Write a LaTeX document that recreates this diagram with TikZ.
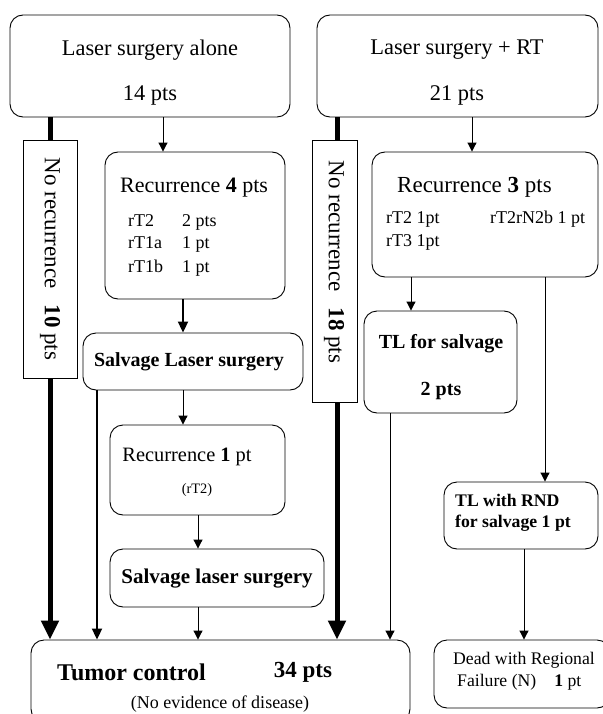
\documentclass[tikz,border=0pt]{standalone}
\usepackage{fontspec}
\setmainfont{Liberation Serif}
\usetikzlibrary{arrows.meta,positioning,calc}

\tikzset{
  rbox/.style={draw,rounded corners=13pt,inner sep=0pt,line width=0.9pt},
  sbox/.style={draw,inner sep=0pt,line width=0.9pt},
  thinarr/.style={line width=1pt,-{Triangle[length=9pt,width=9pt]}},
  midarr/.style={line width=2pt,-{Triangle[length=11pt,width=10pt]}},
  fatarr/.style={line width=5pt,-{Triangle[length=19pt,width=17pt]}},
  fatline/.style={line width=5pt},
  txt/.style={inner sep=0pt},
}
\newcommand{\fs}[1]{\fontsize{#1}{#1}\selectfont}

\begin{document}
\begin{tikzpicture}[x=1pt,y=-1pt]
\useasboundingbox (0,0) rectangle (602,714);

% boxes
\node[rbox,minimum width=280pt,minimum height=102pt] (alone) at (150,66) {};
\node[rbox,minimum width=281pt,minimum height=102pt] (rt) at (457.5,66) {};
\node[sbox,minimum width=54pt,minimum height=238pt] (norecA) at (50,259) {};
\node[rbox,minimum width=180pt,minimum height=147pt] (recA) at (195,225.5) {};
\node[rbox,minimum width=220pt,minimum height=57pt] (salvA) at (193,361.5) {};
\node[rbox,minimum width=175pt,minimum height=90pt] (recB) at (197.5,470) {};
\node[rbox,minimum width=214pt,minimum height=58pt] (salvB) at (217,578) {};
\node[rbox,minimum width=379pt,minimum height=82pt] (tumor) at (220.5,681) {};
\node[sbox,minimum width=45pt,minimum height=262pt] (norecB) at (334.5,271) {};
\node[rbox,minimum width=226pt,minimum height=125pt] (recC) at (485,214.5) {};
\node[rbox,minimum width=153pt,minimum height=102pt] (tls) at (440.5,362) {};
\node[rbox,minimum width=154pt,minimum height=67pt] (tlrnd) at (521,515.5) {};
\node[rbox,minimum width=176pt,minimum height=68pt] (dead) at (522,674) {};

% texts
\node[txt] (aloneT) at (150,50) {\fs{22.4}Laser surgery alone};
\node[txt] (aloneN) at (150,95) {\fs{22.4}14 pts};
\node[txt] (rtT) at (457,50) {\fs{22.4}Laser surgery + RT};
\node[txt] (rtN) at (457,95) {\fs{22.4}21 pts};
\node[txt,anchor=west] (recAT) at (120,188) {\fs{22}Recurrence \textbf{4} pts};
\node[txt,anchor=base west] (recAa) at (128,226) {\fs{18}rT2};
\node[txt,anchor=base west] (recAb) at (128,248) {\fs{18}rT1a};
\node[txt,anchor=base west] (recAc) at (128,272) {\fs{18}rT1b};
\node[txt,anchor=base west] (recAd) at (182,226) {\fs{18}2 pts};
\node[txt,anchor=base west] (recAe) at (182,248) {\fs{18}1 pt};
\node[txt,anchor=base west] (recAf) at (182,272) {\fs{18}1 pt};
\node[txt] (salvAT) at (189,362) {\fs{20}\textbf{Salvage Laser surgery}};
\node[txt] (recBT) at (187,457) {\fs{20.4}Recurrence \textbf{1} pt};
\node[txt] (recBL) at (197,490) {\fs{14.4}(rT2)};
\node[txt] (salvBT) at (217,579) {\fs{21}\textbf{Salvage laser surgery}};
\node[txt,anchor=west] (tumorT) at (57,672) {\fs{24}\textbf{Tumor control}};
\node[txt] (tumorN) at (303,672) {\fs{23}\textbf{34 pts}};
\node[txt] (tumorL) at (220,704) {\fs{18}(No evidence of disease)};
\node[txt,rotate=-90] (norecAT) at (50,259) {\fs{23}No recurrence\hspace{16pt}\textbf{10} pts};
\node[txt,rotate=-90] (norecBT) at (334,262) {\fs{23}No recurrence\hspace{16pt}\textbf{18} pts};
\node[txt,anchor=west] (recCT) at (397,187) {\fs{23}Recurrence \textbf{3} pts};
\node[txt,anchor=base west] (recCa) at (386,223) {\fs{18}rT2 1pt};
\node[txt,anchor=base west] (recCb) at (490,223) {\fs{18}rT2rN2b 1 pt};
\node[txt,anchor=base west] (recCc) at (386,246) {\fs{18}rT3 1pt};
\node[txt] (tlsT) at (441,344) {\fs{20}\textbf{TL for salvage}};
\node[txt] (tlsN) at (441,391) {\fs{20}\textbf{2 pts}};
\node[txt,anchor=west] (tlrndT) at (455,500) {\fs{17.7}\textbf{TL with RND}};
\node[txt,anchor=west] (tlrndN) at (455,523) {\fs{17.7}\textbf{for salvage 1 pt}};
\node[txt,anchor=west] (deadT) at (453,660) {\fs{17.7}Dead with Regional};
\node[txt,anchor=west] (deadN) at (457,682) {\fs{17.7}Failure (N)\hspace{18pt}\textbf{1} pt};

% x positions of the connectors
\coordinate (xa) at (50,0);
\coordinate (xb) at (163,0);
\coordinate (xc) at (183,0);
\coordinate (xd) at (97,0);
\coordinate (xe) at (198,0);
\coordinate (xf) at (337,0);
\coordinate (xg) at (472,0);
\coordinate (xh) at (411,0);
\coordinate (xi) at (390,0);
\coordinate (xj) at (545,0);
\coordinate (xk) at (524,0);

% connectors
\draw[fatline] (alone.south -| xa) -- (norecA.north -| xa);
\draw[fatarr] (norecA.south -| xa) -- (tumor.north -| xa);
\draw[thinarr] (alone.south -| xb) -- (recA.north -| xb);
\draw[midarr] (recA.south -| xc) -- (salvA.north -| xc);
\draw[midarr] (salvA.south -| xd) -- (tumor.north -| xd);
\draw[thinarr] (salvA.south -| xc) -- (recB.north -| xc);
\draw[thinarr] (recB.south -| xe) -- (salvB.north -| xe);
\draw[thinarr] (salvB.south -| xe) -- (tumor.north -| xe);
\draw[fatline] (rt.south -| xf) -- (norecB.north -| xf);
\draw[fatarr] (norecB.south -| xf) -- (tumor.north -| xf);
\draw[thinarr] (rt.south -| xg) -- (recC.north -| xg);
\draw[thinarr] (recC.south -| xh) -- (tls.north -| xh);
\draw[thinarr] (tls.south -| xi) -- (tumor.north -| xi);
\draw[thinarr] (recC.south -| xj) -- (tlrnd.north -| xj);
\draw[thinarr] (tlrnd.south -| xk) -- (dead.north -| xk);
\end{tikzpicture}
\end{document}
